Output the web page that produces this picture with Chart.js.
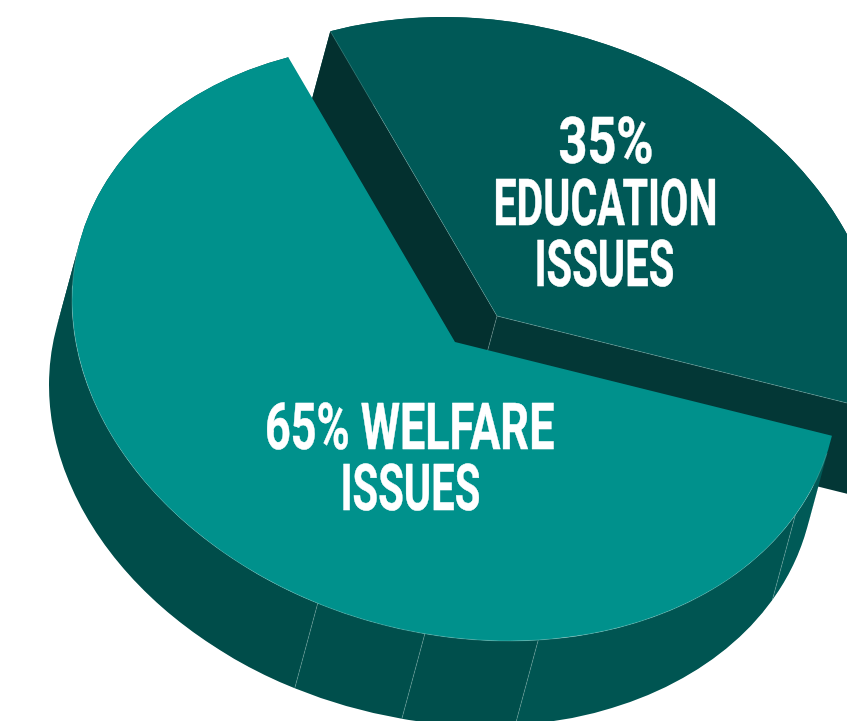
<!DOCTYPE html>
<html>
<head>
<meta charset="utf-8">
<title>Welfare and education issues</title>
<script src="https://cdn.jsdelivr.net/npm/chart.js@4"></script>
<style>
    html, body { margin: 0; padding: 0; background: #ffffff; overflow: hidden; }
    canvas { display: block; }
</style>
</head>
<body>
<canvas id="issuesChart" width="847" height="721"></canvas>
<script>
const categories = ['WELFARE ISSUES', 'EDUCATION ISSUES'];
const shares = [65, 35];
// Where the rim of the welfare slice is split into panels, in pie percent from the slice start
const welfareRimBreaks = [4.75, 18.68, 23.42, 28];

const topColors = ['#00918c', '#005957'];
const welfareRimColors = ['#005a57', '#005552', '#004f4c', '#004f4c', '#004d4a'];
const educationRimColor = '#005552';
const educationCutColors = ['#03302f', '#033736'];
const seamColor = 'rgba(185, 225, 220, 0.42)';

// Tilted disc: screen centre of the welfare apex and the two ellipse axes
const discCentre = { x: 455, y: 342 };
const discAxes = { xx: 383, xy: 42, yy: 296 };
const depth = { x: -23, y: 85 };
const educationShift = { x: 42, y: -26 };

// Text boxes: left, right and baseline in page pixels
const sliceLabels = [
    { line: shares[1] + '%', left: 560, right: 652, base: 163 },
    { line: 'EDUCATION', left: 496, right: 715, base: 225 },
    { line: 'ISSUES', left: 537, right: 673, base: 286 },
    { line: shares[0] + '% WELFARE', left: 267, right: 554, base: 449 },
    { line: 'ISSUES', left: 343, right: 479, base: 510 }
];

function applyDisc(ctx, arc, shift) {
    const r = arc.outerRadius;
    const a = discAxes.xx / r, b = discAxes.xy / r, d = discAxes.yy / r;
    ctx.transform(a, b, 0, d,
        discCentre.x + shift.x - a * arc.x,
        discCentre.y + shift.y - b * arc.x - d * arc.y);
}

// Screen depth expressed in the pie's own untransformed coordinates
function depthInPie(arc) {
    const r = arc.outerRadius;
    const dx = depth.x / (discAxes.xx / r);
    const dy = (depth.y - (discAxes.xy / r) * dx) / (discAxes.yy / r);
    return { x: dx, y: dy };
}

function fillRimPiece(ctx, arc, from, to, off) {
    ctx.beginPath();
    ctx.arc(arc.x, arc.y, arc.outerRadius, from, to);
    ctx.arc(arc.x + off.x, arc.y + off.y, arc.outerRadius, to, from, true);
    ctx.closePath();
    ctx.fill();
}

// The swept rim folds where the arc runs parallel to the depth, so each side is filled apart
function fillRim(ctx, arc, from, to, color) {
    const off = depthInPie(arc);
    const fold = Math.atan2(off.y, off.x);
    const cuts = [];
    for (let k = -2; k <= 2; k++) {
        [fold + Math.PI / 2, fold - Math.PI / 2].forEach(t => {
            const angle = t + k * Math.PI * 2;
            if (angle > from && angle < to) cuts.push(angle);
        });
    }
    const stops = [from, ...cuts.sort((p, q) => p - q), to];
    ctx.fillStyle = color;
    for (let i = 0; i < stops.length - 1; i++) {
        fillRimPiece(ctx, arc, stops[i], stops[i + 1], off);
    }
}

function fillCut(ctx, arc, angle, color) {
    const off = depthInPie(arc);
    const rx = arc.x + Math.cos(angle) * arc.outerRadius;
    const ry = arc.y + Math.sin(angle) * arc.outerRadius;
    ctx.beginPath();
    ctx.moveTo(arc.x, arc.y);
    ctx.lineTo(rx, ry);
    ctx.lineTo(rx + off.x, ry + off.y);
    ctx.lineTo(arc.x + off.x, arc.y + off.y);
    ctx.closePath();
    ctx.fillStyle = color;
    ctx.fill();
}

function strokeSeam(ctx, draw) {
    ctx.beginPath();
    draw();
    ctx.strokeStyle = seamColor;
    ctx.lineWidth = 0.6;
    ctx.stroke();
}

function drawEducation(ctx, arc) {
    const off = depthInPie(arc);
    ctx.save();
    applyDisc(ctx, arc, educationShift);
    fillRim(ctx, arc, arc.startAngle, arc.endAngle, educationRimColor);
    fillCut(ctx, arc, arc.endAngle, educationCutColors[1]);
    fillCut(ctx, arc, arc.startAngle, educationCutColors[0]);
    strokeSeam(ctx, () => {
        ctx.moveTo(arc.x, arc.y);
        ctx.lineTo(arc.x + off.x, arc.y + off.y);
    });
    arc.draw(ctx);
    strokeSeam(ctx, () => {
        ctx.moveTo(arc.x + Math.cos(arc.startAngle) * arc.outerRadius, arc.y + Math.sin(arc.startAngle) * arc.outerRadius);
        ctx.lineTo(arc.x, arc.y);
        ctx.lineTo(arc.x + Math.cos(arc.endAngle) * arc.outerRadius, arc.y + Math.sin(arc.endAngle) * arc.outerRadius);
    });
    ctx.restore();
}

function drawWelfare(ctx, arc) {
    const off = depthInPie(arc);
    const toAngle = pct => arc.startAngle + pct / 100 * Math.PI * 2;
    const edges = [arc.startAngle, ...welfareRimBreaks.map(toAngle), arc.endAngle];
    ctx.save();
    applyDisc(ctx, arc, { x: 0, y: 0 });
    welfareRimColors.forEach((color, i) => fillRim(ctx, arc, edges[i], edges[i + 1], color));
    welfareRimBreaks.map(toAngle).forEach(angle => {
        const rx = arc.x + Math.cos(angle) * arc.outerRadius;
        const ry = arc.y + Math.sin(angle) * arc.outerRadius;
        strokeSeam(ctx, () => {
            ctx.moveTo(rx, ry);
            ctx.lineTo(rx + off.x, ry + off.y);
        });
    });
    arc.draw(ctx);
    // light hairline along the front of the rim only
    strokeSeam(ctx, () => ctx.arc(arc.x, arc.y, arc.outerRadius, toAngle(1), toAngle(50)));
    ctx.restore();
}

const tiltedPie = {
    id: 'tiltedPie',
    beforeDatasetDraw(chart) {
        const ctx = chart.ctx;
        const arcs = chart.getDatasetMeta(0).data;
        drawEducation(ctx, arcs[1]);
        drawWelfare(ctx, arcs[0]);
        return false;
    },
    afterDatasetsDraw(chart) {
        const ctx = chart.ctx;
        ctx.save();
        ctx.fillStyle = '#ffffff';
        ctx.strokeStyle = '#ffffff';
        ctx.lineJoin = 'round';
        ctx.lineWidth = 0.5;
        ctx.textBaseline = 'alphabetic';
        ctx.font = '700 65px "Liberation Sans Narrow", Roboto';
        sliceLabels.forEach(item => {
            const m = ctx.measureText(item.line);
            const inkWidth = m.actualBoundingBoxLeft + m.actualBoundingBoxRight;
            const sx = (item.right - item.left) / inkWidth;
            ctx.save();
            ctx.translate(item.left, item.base);
            ctx.scale(sx, 1);
            ctx.fillText(item.line, m.actualBoundingBoxLeft, 0);
            ctx.strokeText(item.line, m.actualBoundingBoxLeft, 0);
            ctx.restore();
        });
        ctx.restore();
    }
};

new Chart(document.getElementById('issuesChart'), {
    type: 'pie',
    data: {
        labels: categories,
        datasets: [{
            data: shares,
            backgroundColor: topColors,
            borderWidth: 0
        }]
    },
    options: {
        responsive: false,
        animation: false,
        rotation: 100.2,
        plugins: {
            legend: { display: false },
            tooltip: { enabled: false }
        }
    },
    plugins: [tiltedPie]
});
</script>
</body>
</html>
